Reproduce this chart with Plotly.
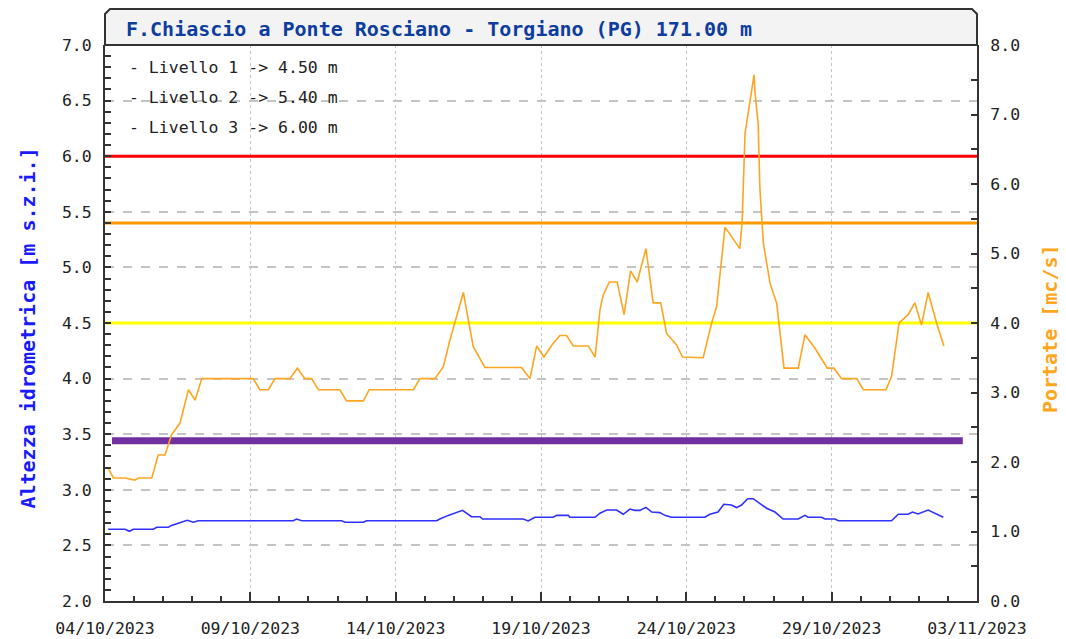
import pandas as pd
import plotly.graph_objects as go

# ---------------- data ----------------
start_date = "2023-10-04"
end_date = "2023-11-03"

# discharge (Portate, mc/s) - right axis; time as days since 04/10/2023
q_days = [0.11, 0.29, 0.69, 1.03, 1.15, 1.61, 1.83, 2.06, 2.29, 2.58, 2.87, 3.10,
          3.33, 5.10, 5.33, 5.62, 5.85, 6.36, 6.62, 6.88, 7.11, 7.34, 8.08, 8.31,
          8.89, 9.09, 10.61, 10.84, 11.35, 11.64, 11.87, 12.10, 12.33, 12.50,
          12.67, 13.07, 14.33, 14.62, 14.85, 15.10, 15.37, 15.65, 15.88, 16.11,
          16.63, 16.86, 17.03, 17.14, 17.35, 17.62, 17.86, 18.08, 18.31, 18.61,
          18.86, 19.12, 19.32, 19.67, 19.87, 20.58, 20.87, 21.04, 21.33, 21.84,
          21.92, 22.02, 22.19, 22.33, 22.36, 22.47, 22.53, 22.65, 22.88, 23.11,
          23.36, 23.85, 24.08, 24.42, 24.85, 25.08, 25.34, 25.86, 26.09, 26.87,
          27.06, 27.32, 27.63, 27.86, 28.09, 28.32, 28.61, 28.86]
q_values = [1.91, 1.77, 1.77, 1.74, 1.77, 1.77, 2.10, 2.10, 2.39, 2.56, 3.04, 2.89,
            3.20, 3.20, 3.04, 3.04, 3.20, 3.20, 3.35, 3.20, 3.20, 3.04, 3.04, 2.88,
            2.88, 3.04, 3.04, 3.20, 3.20, 3.37, 3.76, 4.09, 4.44, 4.04,
            3.66, 3.36, 3.36, 3.20, 3.67, 3.51, 3.68, 3.82, 3.82, 3.67,
            3.67, 3.51, 4.19, 4.40, 4.59, 4.59, 4.12, 4.75, 4.59, 5.07,
            4.29, 4.29, 3.85, 3.68, 3.51, 3.50, 4.00, 4.23, 5.38, 5.07,
            5.46, 6.73, 7.16, 7.57, 7.33, 6.87, 5.94, 5.15, 4.57, 4.28,
            3.35, 3.35, 3.83, 3.64, 3.35, 3.35, 3.20, 3.20, 3.04, 3.04,
            3.23, 4.00, 4.12, 4.29, 3.97, 4.44, 4.00, 3.67]

# water level (Altezza idrometrica, m) - left axis
h_days = [0.11, 0.69, 0.84, 0.97, 1.66, 1.78, 2.18, 2.29, 2.52, 2.83, 3.04, 3.21,
          6.48, 6.59, 6.77, 8.14, 8.26, 8.89, 9.00, 11.41, 11.52, 11.81, 12.30,
          12.61, 12.90, 12.99, 14.39, 14.56, 14.79, 15.42, 15.54, 15.94, 15.99,
          16.86, 17.03, 17.26, 17.60, 17.83, 18.06, 18.23, 18.40, 18.61, 18.81,
          19.09, 19.26, 19.49, 20.64, 20.81, 21.09, 21.29, 21.55, 21.73, 21.90,
          22.11, 22.30, 22.53, 22.76, 23.05, 23.33, 23.85, 24.08, 24.19, 24.65,
          24.77, 25.11, 25.23, 27.06, 27.29, 27.63, 27.78, 27.97, 28.32, 28.55, 28.84]
h_values = [2.645, 2.645, 2.627, 2.645, 2.645, 2.663, 2.663, 2.680, 2.700, 2.726, 2.708, 2.722,
            2.722, 2.737, 2.722, 2.722, 2.708, 2.708, 2.722, 2.722, 2.737, 2.770, 2.815,
            2.758, 2.758, 2.737, 2.737, 2.720, 2.753, 2.753, 2.770, 2.770, 2.753,
            2.753, 2.790, 2.818, 2.818, 2.780, 2.827, 2.815, 2.815, 2.842, 2.800,
            2.795, 2.770, 2.753, 2.753, 2.780, 2.800, 2.870, 2.863, 2.840, 2.863,
            2.920, 2.920, 2.878, 2.834, 2.800, 2.737, 2.737, 2.770, 2.753, 2.753,
            2.737, 2.737, 2.722, 2.722, 2.780, 2.780, 2.800, 2.783, 2.818, 2.790, 2.753]

# alarm levels (m)
level_numbers = [1, 2, 3]
level_values = [4.50, 5.40, 6.00]
level_colors = ["#ffff00", "#ff9900", "#ff0000"]

# purple reference line
ref_level = 3.44
ref_days = [0.24, 29.51]

title_text = "F.Chiascio a Ponte Rosciano - Torgiano (PG) 171.00 m"
left_title = "Altezza idrometrica [m s.z.i.]"
right_title = "Portate [mc/s]"

# ---------------- figure ----------------
base = pd.Timestamp(start_date)
def to_dt(days):
    return base + pd.to_timedelta(days, unit="D")

FONT = "DejaVu Sans Mono"
fig = go.Figure()

# threshold lines
for v, c in zip(level_values, level_colors):
    fig.add_trace(go.Scatter(x=[start_date, end_date], y=[v, v], mode="lines",
                             line=dict(color=c, width=3), yaxis="y",
                             hoverinfo="skip", showlegend=False))
# purple line
fig.add_trace(go.Scatter(x=to_dt(ref_days), y=[ref_level, ref_level], mode="lines",
                         line=dict(color="#7030a0", width=7), yaxis="y",
                         hoverinfo="skip", showlegend=False))
# discharge
fig.add_trace(go.Scatter(x=to_dt(q_days), y=q_values, mode="lines",
                         line=dict(color="#ffa520", width=1.6), yaxis="y2",
                         showlegend=False, name="Portata"))
# level
fig.add_trace(go.Scatter(x=to_dt(h_days), y=h_values, mode="lines",
                         line=dict(color="#3030ff", width=1.6), yaxis="y",
                         showlegend=False, name="Livello"))

tickfont = dict(family=FONT, size=16.5, color="#222222")
axis_line = dict(showline=True, linecolor="#333333", linewidth=2, mirror=False,
                 automargin=False)

# the page body adds an 8px offset, so the figure is sized/margined for it
fig.update_layout(
    width=1058, height=631,
    margin=dict(l=97, r=89, t=37, b=38, autoexpand=False),
    paper_bgcolor="white", plot_bgcolor="white",
    xaxis=dict(
        type="date", range=[start_date, end_date],
        tick0=start_date, dtick=5 * 86400000, tickformat="%d/%m/%Y",
        ticks="inside", ticklen=9, tickwidth=2, tickcolor="#333333",
        minor=dict(dtick=86400000, ticks="inside", ticklen=5, tickwidth=2,
                   tickcolor="#333333", showgrid=False),
        showgrid=True, gridcolor="#c4c4c4", griddash="dot", gridwidth=1,
        tickfont=tickfont, ticklabelstandoff=11, zeroline=False,
        **axis_line,
    ),
    yaxis=dict(
        range=[2, 7], dtick=0.5, tickformat=".1f",
        ticks="inside", ticklen=6, tickwidth=2, tickcolor="#333333",
        minor=dict(dtick=0.1, ticks="inside", ticklen=6, tickwidth=2,
                   tickcolor="#333333", showgrid=False),
        showgrid=True, gridcolor="#c4c4c4", griddash="dash", gridwidth=1.5,
        tickfont=tickfont, ticklabelstandoff=8, zeroline=False,
        **axis_line,
    ),
    yaxis2=dict(
        range=[0, 8], dtick=1, tickformat=".1f", overlaying="y", side="right",
        ticks="inside", ticklen=6, tickwidth=2, tickcolor="#333333",
        minor=dict(dtick=0.5, ticks="inside", ticklen=6, tickwidth=2,
                   tickcolor="#333333", showgrid=False),
        showgrid=False, tickfont=tickfont, ticklabelstandoff=8, zeroline=False,
        **axis_line,
    ),
)

# title box with chamfered top corners
bh = 36 / 556.0
cx = 5 / 872.0
cy = 5 / 556.0
fig.add_shape(type="path", xref="paper", yref="paper",
              path=(f"M 0 1 L 0 {1 + bh - cy} L {cx} {1 + bh} L {1 - cx} {1 + bh} "
                    f"L 1 {1 + bh - cy} L 1 1 Z"),
              fillcolor="#f3f3f3", line=dict(color="#333333", width=2), layer="above")
fig.add_annotation(xref="paper", yref="paper", x=0, y=1 + bh / 2, xshift=19, yshift=-2,
                   xanchor="left", yanchor="middle", showarrow=False,
                   text=f"<b>{title_text}</b>",
                   font=dict(family=FONT, size=20, color="#0d3d9e"))

# alarm level texts
level_text_y = [0.960, 0.906, 0.851]
for n, v, yy in zip(level_numbers, level_values, level_text_y):
    fig.add_annotation(xref="paper", yref="paper", x=0, y=yy, xshift=22,
                       xanchor="left", yanchor="middle", showarrow=False,
                       text=f"- Livello {n} -> {v:.2f} m",
                       font=dict(family=FONT, size=16.5, color="#222222"))

# axis titles
fig.add_annotation(xref="paper", yref="paper", x=0, xshift=-77, y=0.49, textangle=-90,
                   xanchor="center", yanchor="middle", showarrow=False,
                   text=f"<b>{left_title}</b>",
                   font=dict(family=FONT, size=20, color="#1a1aff"))
fig.add_annotation(xref="paper", yref="paper", x=1, xshift=73, y=0.489, textangle=-90,
                   xanchor="center", yanchor="middle", showarrow=False,
                   text=f"<b>{right_title}</b>",
                   font=dict(family=FONT, size=20, color="#ffa520"))

fig.write_html("out.html")
